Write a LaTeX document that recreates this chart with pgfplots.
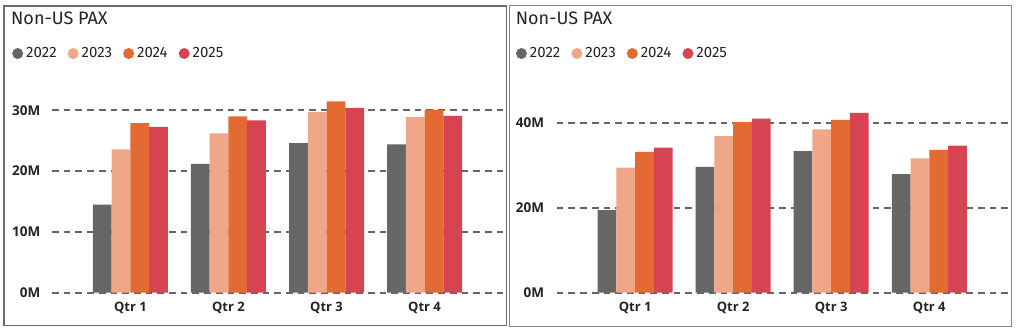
\documentclass[border=0pt]{standalone}
\usepackage{fontspec}
\setmainfont{Open Sans}
\newfontfamily\dinfont{Fira Sans}
\usepackage{pgfplots}
\pgfplotsset{compat=1.18}
\definecolor{cA}{HTML}{666666}
\definecolor{cB}{HTML}{F0A688}
\definecolor{cC}{HTML}{E46A34}
\definecolor{cD}{HTML}{D74451}
\definecolor{txt}{HTML}{252423}
\definecolor{gridc}{HTML}{666666}
\definecolor{framec}{HTML}{6A6A6A}
\pgfplotsset{
  panel/.style={
    scale only axis, width=451pt, height=212.7pt,
    anchor=south west,
    ybar=0pt, bar width=18.75pt,
    xmin=-0.8, xmax=3.8, ymin=0,
    xtick={0,1,2,3}, xticklabels={Qtr 1,Qtr 2,Qtr 3,Qtr 4},
    axis line style={draw=none},
    major tick length=0pt,
    ymajorgrids, grid style={gridc, line width=2pt, dash pattern=on 6.7pt off 5pt},
    yticklabel={\pgfmathprintnumber{\tick}M},
    /pgf/number format/assume math mode=true,
    ticklabel style={font=\fontsize{13.5}{14}\selectfont\bfseries, text=txt, inner sep=0pt},
    yticklabel style={xshift=-11.5pt},
    xticklabel style={yshift=-9pt, font=\fontsize{13}{14}\selectfont\bfseries},
    legend columns=4,
    legend style={draw=none, fill=none, at={(0,1)}, anchor=west, xshift=-40pt, yshift=26.5pt,
      font=\dinfont\fontsize{15}{16}\selectfont, text=txt, inner sep=0pt, nodes={inner sep=0pt},
      /tikz/every odd column/.style={column sep=3pt},
      /tikz/every even column/.style={column sep=11pt}},
    legend cell align=left,
    title style={at={(0,1)}, anchor=base west, xshift=-41pt, yshift=49pt,
      font=\dinfont\fontsize{18}{19}\selectfont, text=txt, inner sep=0pt},
  },
  circleg/.style={legend image code/.code={\fill (5.5pt,0pt) circle (5.5pt);}},
}
\begin{document}
\begin{tikzpicture}
\useasboundingbox (0,0) rectangle (1024pt,332pt);
\draw[framec, line width=1.4pt] (4pt,6.3pt) rectangle (506.5pt,326pt);
\draw[framec!80, line width=1.4pt] (509.5pt,5.3pt) rectangle (1011.7pt,326.3pt);
\begin{axis}[panel, at={(52pt,39.3pt)}, ymax=35, ytick={0,10,20,30}, title={Non-US PAX}]
\addplot[fill=cA, draw=none, circleg] coordinates {(0,14.5) (1,21.2) (2,24.6) (3,24.4)};
\addplot[fill=cB, draw=none, circleg] coordinates {(0,23.6) (1,26.2) (2,29.7) (3,28.9)};
\addplot[fill=cC, draw=none, circleg] coordinates {(0,27.9) (1,29.0) (2,31.5) (3,30.05)};
\addplot[fill=cD, draw=none, circleg] coordinates {(0,27.3) (1,28.35) (2,30.4) (3,29.1)};
\legend{2022,2023,2024,2025}
\end{axis}
\begin{axis}[panel, at={(556.7pt,39.3pt)}, ymax=50, ytick={0,20,40}, title={Non-US PAX},
  legend style={xshift=-1pt}, yticklabel style={xshift=-0.9pt}]
\addplot[fill=cA, draw=none, circleg] coordinates {(0,19.4) (1,29.6) (2,33.3) (3,27.9)};
\addplot[fill=cB, draw=none, circleg] coordinates {(0,29.4) (1,36.8) (2,38.4) (3,31.6)};
\addplot[fill=cC, draw=none, circleg] coordinates {(0,33.1) (1,40.1) (2,40.6) (3,33.6)};
\addplot[fill=cD, draw=none, circleg] coordinates {(0,34.1) (1,40.9) (2,42.3) (3,34.6)};
\legend{2022,2023,2024,2025}
\end{axis}
\end{tikzpicture}
\end{document}
